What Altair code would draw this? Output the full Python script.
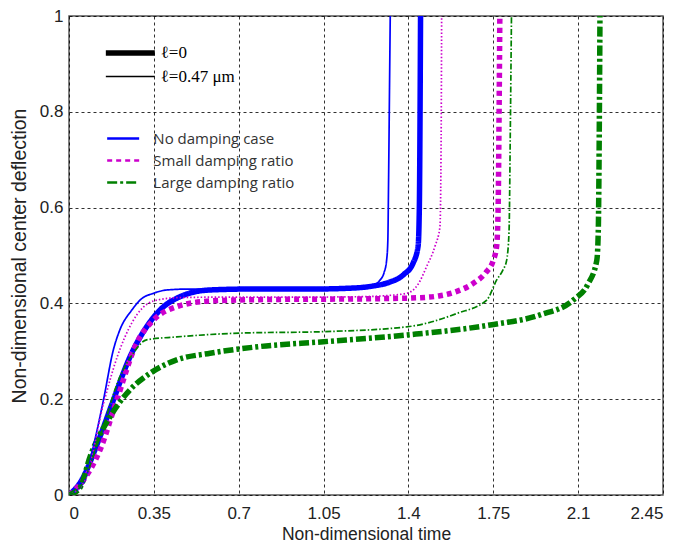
import altair as alt
import pandas as pd

cases = ["No damping case", "Small damping ratio", "Large damping ratio"]
ells = ["ℓ=0", "ℓ=0.47 μm"]
case_colors = ["#0000FF", "#CC00CC", "#008000"]
x_ticks = [0, 0.35, 0.7, 1.05, 1.4, 1.75, 2.1, 2.45]
y_ticks = [0, 0.2, 0.4, 0.6, 0.8, 1.0]

# ℓ = 0 (thick)
t_nd_0 = [0, 0.045, 0.128, 0.183, 0.252, 0.32, 0.375, 0.458, 0.58, 0.75, 1.0, 1.17, 1.25, 1.32, 1.38, 1.42, 1.44, 1.445, 1.448, 1.45]
y_nd_0 = [0, 0.025, 0.122, 0.198, 0.289, 0.351, 0.386, 0.414, 0.428, 0.43, 0.43, 0.432, 0.436, 0.444, 0.46, 0.485, 0.52, 0.6, 0.8, 1.0]
t_sd_0 = [0, 0.05, 0.128, 0.197, 0.279, 0.348, 0.444, 0.58, 0.8, 1.1, 1.3, 1.45, 1.53, 1.6, 1.668, 1.72, 1.75, 1.764, 1.77, 1.774, 1.777]
y_sd_0 = [0, 0.025, 0.094, 0.198, 0.317, 0.365, 0.393, 0.405, 0.408, 0.409, 0.41, 0.412, 0.416, 0.425, 0.442, 0.465, 0.49, 0.52, 0.6, 0.8, 1.0]
t_ld_0 = [0, 0.045, 0.087, 0.169, 0.238, 0.334, 0.444, 0.582, 0.788, 1.05, 1.393, 1.737, 1.943, 2.08, 2.14, 2.177, 2.183, 2.187, 2.19]
y_ld_0 = [0, 0.015, 0.08, 0.163, 0.212, 0.254, 0.282, 0.296, 0.31, 0.32, 0.334, 0.355, 0.376, 0.407, 0.44, 0.49, 0.55, 0.75, 1.0]

# ℓ = 0.47 μm (thin)
t_nd_1 = [0, 0.066, 0.10, 0.142, 0.183, 0.21, 0.259, 0.30, 0.348, 0.403, 0.5, 0.8, 1.1, 1.2, 1.25, 1.28, 1.30, 1.31, 1.315, 1.318, 1.322, 1.325]
y_nd_1 = [0, 0.031, 0.10, 0.198, 0.303, 0.345, 0.386, 0.41, 0.421, 0.428, 0.43, 0.43, 0.43, 0.432, 0.437, 0.447, 0.465, 0.49, 0.53, 0.65, 0.85, 1.0]
t_sd_1 = [0, 0.066, 0.142, 0.2, 0.26, 0.348, 0.45, 0.6, 0.9, 1.2, 1.3, 1.393, 1.44, 1.475, 1.51, 1.53, 1.535, 1.537]
y_sd_1 = [0, 0.03, 0.19, 0.29, 0.36, 0.405, 0.412, 0.413, 0.413, 0.414, 0.416, 0.421, 0.44, 0.477, 0.52, 0.56, 0.75, 1.0]
t_ld_1 = [0, 0.05, 0.128, 0.21, 0.265, 0.32, 0.444, 0.705, 1.05, 1.393, 1.6, 1.723, 1.764, 1.79, 1.805, 1.815, 1.82, 1.825]
y_ld_1 = [0, 0.02, 0.122, 0.247, 0.296, 0.324, 0.33, 0.338, 0.341, 0.351, 0.379, 0.407, 0.449, 0.47, 0.49, 0.55, 0.75, 1.0]


def frame(ts, ys, case, ell):
    return pd.DataFrame({"t": ts, "y": ys, "case": case, "ell": ell})


thick = pd.concat([
    frame(t_nd_0, y_nd_0, cases[0], ells[0]),
    frame(t_sd_0, y_sd_0, cases[1], ells[0]),
    frame(t_ld_0, y_ld_0, cases[2], ells[0]),
])
thin = pd.concat([
    frame(t_nd_1, y_nd_1, cases[0], ells[1]),
    frame(t_sd_1, y_sd_1, cases[1], ells[1]),
    frame(t_ld_1, y_ld_1, cases[2], ells[1]),
])

axis_common = dict(
    grid=True, ticks=False, domain=False,
    labelFont="Liberation Sans", labelFontSize=17, labelColor="#222222",
    titleFont="Liberation Sans", titleFontWeight="normal", titleColor="#222222",
    labelExpr="format(datum.value, '.2~f')",
)

x_enc = alt.X(
    "t:Q",
    scale=alt.Scale(domain=[0, 2.45], nice=False, zero=False),
    axis=alt.Axis(values=x_ticks, title="Non-dimensional time", labelPadding=10,
                  titleFontSize=17.5, titlePadding=4, **axis_common),
)
y_enc = alt.Y(
    "y:Q",
    scale=alt.Scale(domain=[0, 1], nice=False),
    axis=alt.Axis(values=y_ticks, title="Non-dimensional center deflection", labelPadding=6,
                  titleFontSize=19.5, titlePadding=10, **axis_common),
)

# legend symbols: a horizontal stroke three times as long as the symbol cell
line_symbol = "M-1,0H5"

case_sym = 32 / 3.0
case_legend = alt.Legend(
    title=None, orient="none", legendX=36, legendY=115, padding=0,
    symbolType=line_symbol, symbolSize=case_sym ** 2, symbolStrokeWidth=2.5,
    labelFont="Open Sans", labelFontSize=15, labelColor="#333333",
    labelOffset=2 * case_sym + 12, rowPadding=6,
)
ell_sym = 49 / 3.0
ell_legend = alt.Legend(
    title=None, orient="none", legendX=34, legendY=26, padding=0,
    symbolType=line_symbol, symbolSize=ell_sym ** 2, symbolStrokeColor="black",
    labelFont="Liberation Serif", labelFontSize=17, labelColor="#000000",
    labelOffset=2 * ell_sym + 3, rowPadding=3,
)

color_enc = alt.Color("case:N", scale=alt.Scale(domain=cases, range=case_colors), legend=case_legend)
width_enc = alt.StrokeWidth("ell:O", scale=alt.Scale(domain=ells, range=[5.5, 1.7]), legend=ell_legend)

thick_layer = alt.Chart(thick).mark_line(clip=True, interpolate="monotone").encode(
    x=x_enc, y=y_enc, color=color_enc, strokeWidth=width_enc,
    strokeDash=alt.StrokeDash("case:N",
                              scale=alt.Scale(domain=cases, range=[[1, 0], [5, 4], [10, 3, 3, 3]]),
                              legend=case_legend),
    detail="case:N",
)

thin_dash = ("datum['case'] === 'Small damping ratio' ? [1.5, 2] : "
             "(datum['case'] === 'Large damping ratio' ? [6, 2, 1.5, 2] : [1, 0])")
thin_layer = alt.Chart(thin).mark_line(clip=True, interpolate="monotone",
                                       strokeDash=alt.ExprRef(expr=thin_dash)).encode(
    x=x_enc, y=y_enc, color=color_enc, strokeWidth=width_enc,
    detail="case:N",
)

chart = alt.layer(thick_layer, thin_layer).properties(
    width=594, height=479,
    autosize=alt.AutoSizeParams(type="none"),
    padding={"left": 69, "top": 16, "right": 14, "bottom": 49},
    background="white",
).configure_view(
    stroke="#555555", strokeWidth=1.5
).configure_axis(
    gridColor="#000000", gridDash=[3, 3], gridOpacity=0.9, gridWidth=0.9
)

chart.save("out.html", embed_options={"renderer": "svg", "actions": False})
